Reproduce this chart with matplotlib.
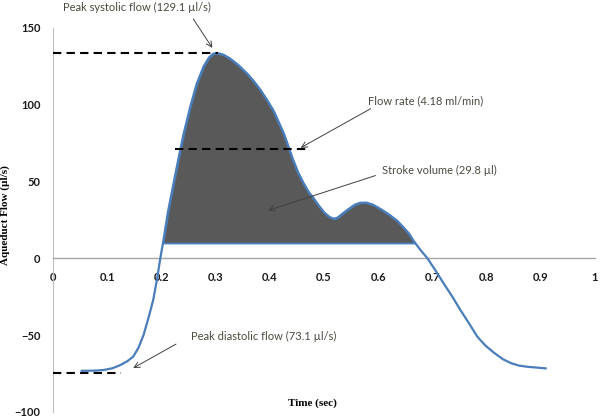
import numpy as np
import matplotlib
matplotlib.use("Agg")
import matplotlib.pyplot as plt

# flow curve (time in s, flow in µl/s)
time = [0.053, 0.075, 0.093, 0.110, 0.124, 0.137, 0.148, 0.158, 0.167, 0.176,
        0.185, 0.192, 0.198, 0.203, 0.212, 0.222, 0.232, 0.241, 0.253, 0.265,
        0.278, 0.288, 0.296, 0.305, 0.315, 0.327, 0.342, 0.358, 0.370, 0.383,
        0.395, 0.407, 0.426, 0.441, 0.452, 0.462, 0.472, 0.480, 0.490, 0.500,
        0.510, 0.518, 0.525, 0.532, 0.543, 0.557, 0.567, 0.578, 0.590, 0.605,
        0.620, 0.635, 0.647, 0.657, 0.665, 0.678, 0.691, 0.706, 0.721, 0.737,
        0.752, 0.768, 0.783, 0.798, 0.814, 0.830, 0.845, 0.860, 0.876, 0.893,
        0.909]
flow = [-73.2, -73.1, -72.7, -71.5, -69.5, -67.0, -64.0, -58.0, -50.0, -39.0,
        -27.0, -13.5, 0.0, 10.0, 30.0, 48.0, 65.8, 81.0, 98.3, 113.5,
        125.0, 130.8, 133.3, 133.5, 132.5, 130.0, 125.8, 120.3, 115.5, 109.5,
        103.0, 96.0, 81.0, 65.8, 56.0, 49.0, 43.0, 39.5, 34.5, 30.0,
        27.0, 25.8, 26.5, 28.5, 31.5, 35.0, 36.2, 36.3, 35.0, 32.0,
        28.5, 24.5, 20.0, 16.0, 11.5, 5.5, 0.0, -8.0, -16.4, -25.0,
        -33.8, -42.5, -51.0, -56.8, -61.5, -65.6, -68.2, -69.8, -70.6, -71.1,
        -71.6]

stroke_base = 10.0

# dashed reference lines: (x start, x end, level)
peak_sys_line = [0.0, 0.305, 134.0]
flow_rate_line = [0.225, 0.47, 71.4]
peak_dia_line = [0.0, 0.126, -74.7]

xticks = [0, 0.1, 0.2, 0.3, 0.4, 0.5, 0.6, 0.7, 0.8, 0.9, 1]
xtick_labels = ["0", "0.1", "0.2", "0.3", "0.4", "0.5", "0.6", "0.7", "0.8", "0.9", "1"]
yticks = [-100, -50, 0, 50, 100, 150]

# annotation text, text position, arrow tail, arrow head
notes = [
    ("Peak systolic flow (129.1 \u00b5l/s)", (0.155, 163.6), (0.259, 155.8), (0.294, 137.0)),
    ("Flow rate (4.18 ml/min)", (0.688, 102.6), (0.586, 97.4), (0.457, 72.0)),
    ("Stroke volume (29.8 \u00b5l)", (0.713, 57.1), (0.595, 53.9), (0.397, 31.2)),
    ("Peak diastolic flow (73.1 \u00b5l/s)", (0.388, -50.6), (0.227, -55.8), (0.148, -71.4)),
]

blue = "#4a7ebb"

fig = plt.figure(figsize=(6, 4.17), dpi=100)
ax = fig.add_axes([0.0883, 0.012, 0.9033, 0.921])

t = np.array(time)
f = np.array(flow)
mask = f >= stroke_base
ax.fill_between(t, f, stroke_base, where=mask, interpolate=True,
                facecolor="#595959", edgecolor=blue, linewidth=1.3, zorder=2)
ax.plot(t, f, color=blue, linewidth=1.6, zorder=3, solid_joinstyle="round")

for x0, x1, lvl in [peak_sys_line, flow_rate_line, peak_dia_line]:
    ax.plot([x0, x1], [lvl, lvl], color="black", linestyle=(0, (4, 2.5)),
            linewidth=1.5, zorder=4)

for label, txt_pos, tail, head in notes:
    ax.text(txt_pos[0], txt_pos[1], label, ha="center", va="center",
            fontsize=8, color="#4a4a40", family="Lato", clip_on=False)
    ax.annotate("", xy=head, xytext=tail, annotation_clip=False,
                arrowprops=dict(arrowstyle="->", color="#404040", lw=0.7,
                                shrinkA=0, shrinkB=0, mutation_scale=10))

ax.set_xlim(0, 1)
ax.set_ylim(-100, 150)
for s in ["top", "right"]:
    ax.spines[s].set_visible(False)
ax.spines["left"].set_color("#c0c0c0")
ax.spines["bottom"].set_position(("data", 0))
ax.spines["bottom"].set_color("#a6a6a6")
ax.spines["bottom"].set_linewidth(1.0)

ax.set_xticks(xticks)
ax.set_xticklabels(xtick_labels)
ax.set_yticks(yticks)
ax.tick_params(axis="x", length=0, pad=10)
ax.tick_params(axis="y", length=0, pad=9)
for lab in ax.get_xticklabels() + ax.get_yticklabels():
    lab.set_fontfamily("Lato")
    lab.set_fontweight("bold")
    lab.set_fontsize(8)
    lab.set_color("#1a1a1a")

ax.set_ylabel("Aqueduct Flow (\u00b5l/s)", family="Liberation Serif",
              fontweight="bold", fontsize=8)
ax.yaxis.set_label_coords(-0.079, 0.513)
ax.text(0.478, 0.023, "Time (sec)", transform=ax.transAxes, ha="center",
        va="center", family="Liberation Serif", fontweight="bold", fontsize=8)

fig.savefig("out.png", dpi=100)
